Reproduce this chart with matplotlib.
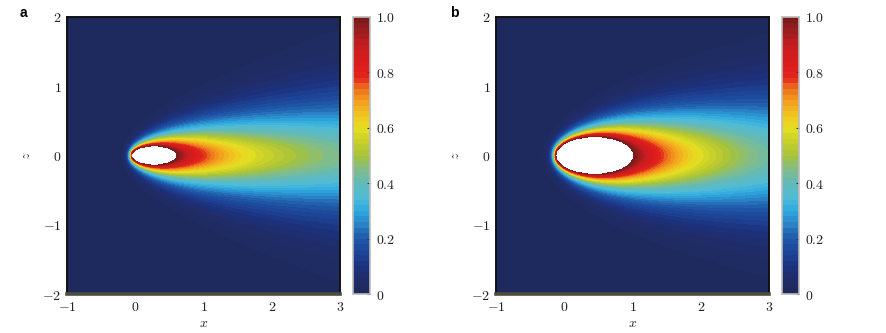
import numpy as np
import matplotlib
matplotlib.use('Agg')
import matplotlib.pyplot as plt
from matplotlib.colors import LinearSegmentedColormap

plt.rcParams['mathtext.fontset'] = 'cm'
plt.rcParams['font.family'] = 'serif'
plt.rcParams['font.serif'] = ['DejaVu Serif']

# ---------------- data ----------------
panels = ['a', 'b']
ellipse_cx = [0.278, 0.446]      # centre of the (white) body, x
ellipse_a = [0.330, 0.567]       # semi-axis along x
ellipse_b = [0.132, 0.265]       # semi-axis along z
wake_value_x3 = [0.44, 0.42]     # centre-line value read at x = 3
width_03_x3 = [0.50, 0.50]       # half-width of the 0.3 contour at x = 3
width_01_x3 = [1.10, 1.10]       # half-width of the 0.1 contour at x = 3

x_range = [-1, 3]
z_range = [-2, 2]
x_ticks = [-1, 0, 1, 2, 3]
z_ticks = [-2, -1, 0, 1, 2]
cbar_ticks = [0, 0.2, 0.4, 0.6, 0.8, 1.0]
cbar_labels = ['0', '0.2', '0.4', '0.6', '0.8', '1.0']

cmap_pos = [0.0, 0.05, 0.10, 0.15, 0.20, 0.25, 0.30, 0.35, 0.40, 0.45,
            0.50, 0.55, 0.60, 0.65, 0.70, 0.75, 0.78, 0.82, 0.90, 1.0]
cmap_col = ['#1e2a5c', '#1f2c68', '#1d3280', '#1d4496', '#1f5aa8', '#2a80c4',
            '#2eaadf', '#52bbd6', '#62bab6', '#7fbd8c', '#a6c23a', '#c9d02a',
            '#e6df22', '#f1c21f', '#f29a1d', '#ec661c', '#e2281b', '#df1c1c',
            '#c51d1f', '#761b1c']


def k0_scaled(x):
    """exp(x) * K0(x)  (Abramowitz & Stegun polynomial approximations)."""
    x = np.asarray(x, dtype=float)
    out = np.empty_like(x)
    small = x <= 2.0
    xs = np.maximum(x[small], 1e-12)
    t = (xs / 3.75) ** 2
    i0 = 1 + t * (3.5156229 + t * (3.0899424 + t * (1.2067492 + t * (0.2659732 + t * (0.0360768 + t * 0.0045813)))))
    u = (xs / 2.0) ** 2
    k0 = -np.log(xs / 2.0) * i0 + (-0.57721566 + u * (0.42278420 + u * (0.23069756 + u * (0.03488590 + u * (0.00262698 + u * (0.00010750 + u * 0.00000740))))))
    out[small] = np.exp(xs) * k0
    xl = x[~small]
    y = 2.0 / xl
    out[~small] = (1.25331414 + y * (-0.07832358 + y * (0.02189568 + y * (-0.01062446 + y * (0.00587872 + y * (-0.00251540 + y * 0.00053208)))))) / np.sqrt(xl)
    return out


def green(dx, dz, k):
    r = np.sqrt(dx ** 2 + dz ** 2)
    return np.exp(k * (dx - r)) * k0_scaled(k * r)


class Plume:
    """Advection-diffusion field of a body held at value 1 (source collocation)."""

    def __init__(self, cx, a, b, k):
        ns, nc = 56, 160
        ts = np.linspace(0, 2 * np.pi, ns, endpoint=False)
        tc = np.linspace(0, 2 * np.pi, nc, endpoint=False)
        self.sx = cx + 0.6 * a * np.cos(ts)
        self.sz = 0.6 * b * np.sin(ts)
        px = cx + a * np.cos(tc)
        pz = b * np.sin(tc)
        A = green(px[:, None] - self.sx[None, :], pz[:, None] - self.sz[None, :], k)
        self.q, *_ = np.linalg.lstsq(A, np.ones(nc), rcond=1e-10)
        self.k, self.b = k, b

    def raw(self, X, Z, alpha):
        az = np.abs(Z)
        ex = np.maximum(az - self.b, 0.0)
        Zw = np.sign(Z) * np.where(az > self.b, self.b + ex / (1 + alpha * ex), az)
        C = np.zeros(np.shape(X))
        for j in range(len(self.q)):
            C = C + self.q[j] * green(X - self.sx[j], Zw - self.sz[j], self.k)
        return np.clip(C, 1e-9, 1.0)


def fit_panel(i):
    zline = np.linspace(0, 2, 401)
    xline = np.full_like(zline, 3.0)
    best = None
    for k in np.arange(5.0, 16.01, 0.5):
        p = Plume(ellipse_cx[i], ellipse_a[i], ellipse_b[i], k)
        for alpha in np.arange(0.0, 1.201, 0.05):
            c = p.raw(xline, zline, alpha)
            gamma = np.log(wake_value_x3[i]) / np.log(c[0])
            v = c ** gamma
            w3 = np.interp(-0.3, -v, zline)
            w1 = np.interp(-0.1, -v, zline)
            err = (w3 - width_03_x3[i]) ** 2 + (w1 - width_01_x3[i]) ** 2
            if best is None or err < best[0]:
                best = (err, k, alpha, gamma)
    return best[1:]


cmap = LinearSegmentedColormap.from_list('plume', list(zip(cmap_pos, cmap_col)), N=256)

W, H = 886, 333
fig = plt.figure(figsize=(W / 100, H / 100), dpi=100)

ax_left = [67, 496]
cb_left = [353, 782]
ax_w, cb_w = 273, 17
top, bottom = 17, 294
label_x = [20, 450]

xg = np.linspace(x_range[0], x_range[1], 401)
zg = np.linspace(z_range[0], z_range[1], 401)
X, Z = np.meshgrid(xg, zg)
levels = np.linspace(0, 1, 51)

for i, name in enumerate(panels):
    k, alpha, gamma = fit_panel(i)
    p = Plume(ellipse_cx[i], ellipse_a[i], ellipse_b[i], k)
    C = np.clip(p.raw(X, Z, alpha) ** gamma, 0.0, 0.9999)
    inside = ((X - ellipse_cx[i]) / ellipse_a[i]) ** 2 + (Z / ellipse_b[i]) ** 2 < 1.0
    C = np.ma.masked_where(inside, C)

    ax = fig.add_axes([ax_left[i] / W, 1 - bottom / H, ax_w / W, (bottom - top) / H])
    cs = ax.contourf(X, Z, C, levels=levels, cmap=cmap)
    ax.set_xlim(x_range)
    ax.set_ylim(z_range)
    ax.set_xticks(x_ticks)
    ax.set_xticklabels([f'${v}$' for v in x_ticks])
    ax.set_yticks(z_ticks)
    ax.set_yticklabels([f'${v}$' for v in z_ticks])
    ax.tick_params(length=0, labelsize=10, pad=4, labelcolor='#222222')
    ax.set_xlabel('$x$', fontsize=10, color='#222222')
    ax.set_ylabel('$z$', fontsize=10, color='#222222')
    ax.xaxis.set_label_coords(0.5, -0.08)
    ax.yaxis.set_label_coords(-0.125, 0.5)
    for s in ['top', 'left', 'right']:
        ax.spines[s].set_linewidth(1.4)
        ax.spines[s].set_color('#111111')
    ax.spines['bottom'].set_linewidth(2.6)
    ax.spines['bottom'].set_color('#4e4c3c')

    cax = fig.add_axes([cb_left[i] / W, 1 - bottom / H, cb_w / W, (bottom - top) / H])
    cb = fig.colorbar(cs, cax=cax, ticks=cbar_ticks)
    cb.ax.set_ylim(0, 1)
    cb.set_ticklabels([f'${t}$' for t in cbar_labels])
    cb.ax.tick_params(direction='in', length=2, width=0.8, color='#333333', labelsize=10, pad=4, labelcolor='#222222')
    cb.outline.set_edgecolor('#bbbbbb')
    cb.outline.set_linewidth(1.2)

    fig.text(label_x[i] / W, 1 - 13 / H, name, family='Liberation Sans', weight='bold', fontsize=10, va='center', ha='left')

fig.savefig('out.png', dpi=100)
